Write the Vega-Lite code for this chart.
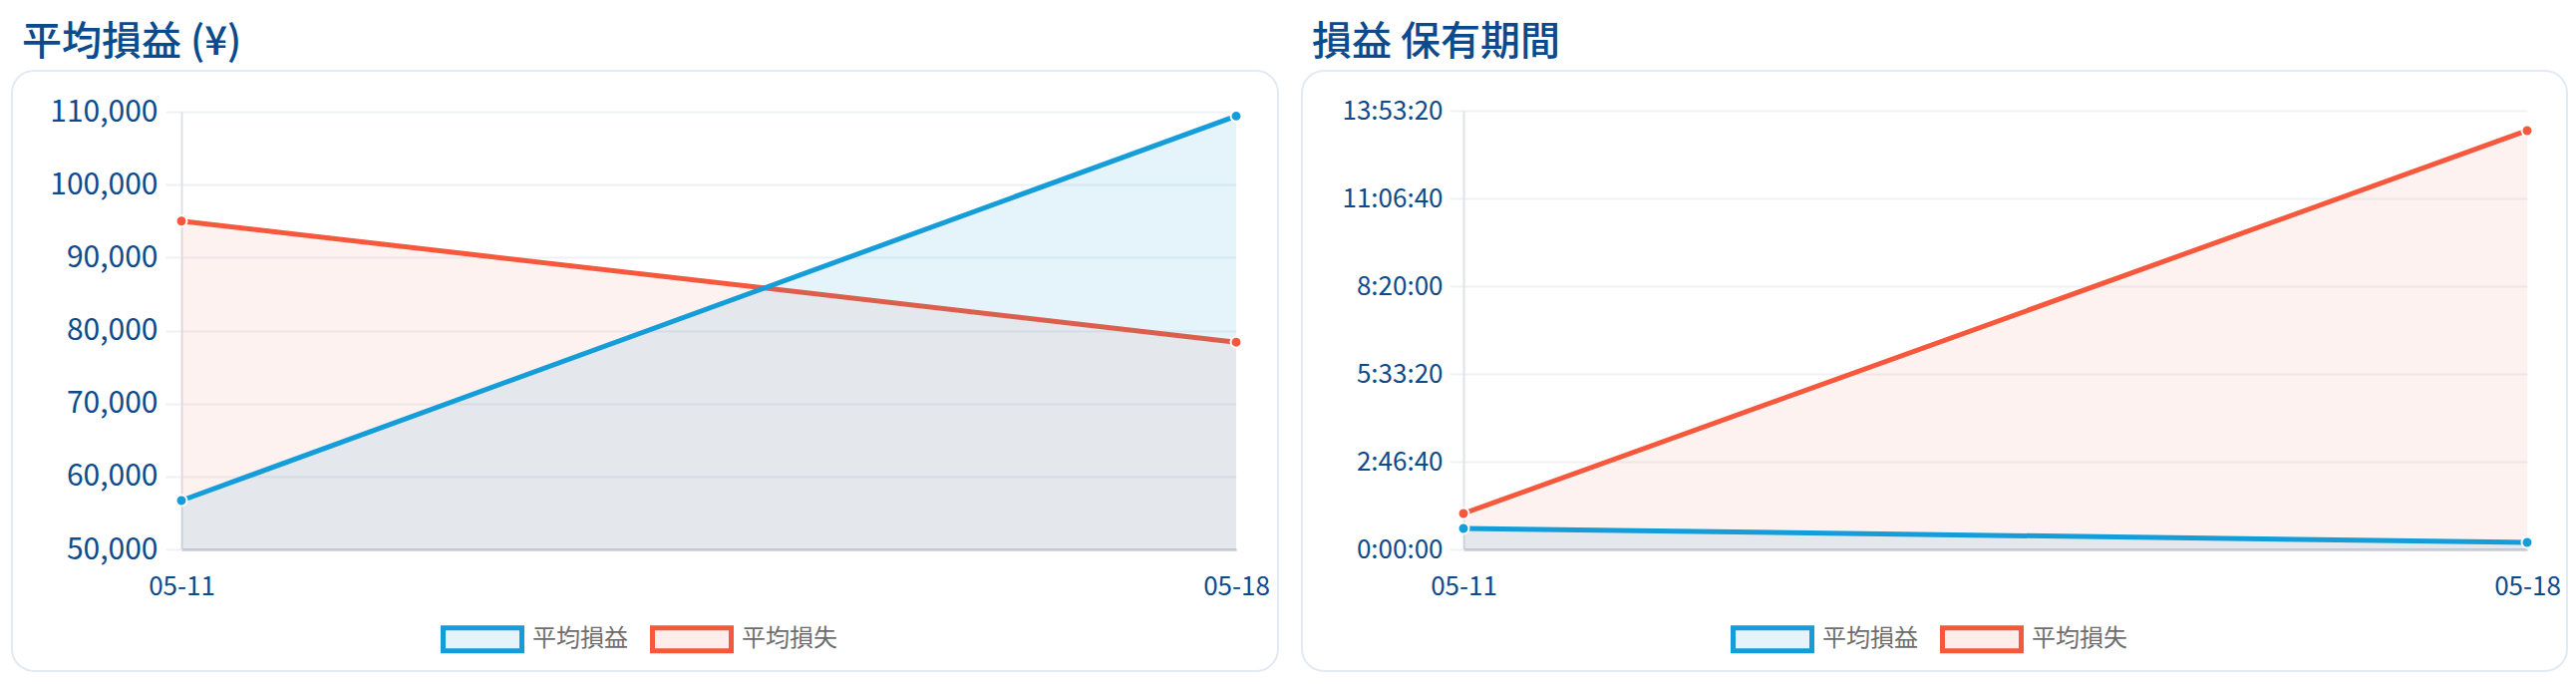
{
  "$schema": "https://vega.github.io/schema/vega-lite/v6.json",
  "background": "#ffffff",
  "padding": {"left": 11, "top": 22, "right": 0, "bottom": 0},
  "config": {
    "font": "Noto Sans CJK JP",
    "view": {"stroke": "#e3eaf3", "strokeWidth": 2, "cornerRadius": 22, "fill": "#ffffff"},
    "title": {"fontSize": 40, "fontWeight": 500, "color": "#0b4a8c", "anchor": "start", "frame": "group", "offset": 8, "dx": 10},
    "axis": {"labelFont": "Noto Sans CJK JP", "labelColor": "#0d4a8c", "title": null},
    "axisY": {
      "labelFontSize": 30, "labelPadding": 8,
      "gridColor": "#edf1f6", "gridWidth": 2,
      "tickColor": "#edf1f6", "tickWidth": 2, "tickSize": 16,
      "domainColor": "#e0e2e8", "domainWidth": 2
    },
    "axisX": {
      "labelFontSize": 26, "labelAngle": 0, "labelPadding": 24,
      "grid": false, "ticks": false,
      "domainColor": "#c9cdd6", "domainWidth": 2.5
    },
    "legend": {
      "title": null, "orient": "none", "direction": "horizontal",
      "labelFontSize": 24, "labelColor": "#6e6e6e", "labelFont": "Noto Sans CJK JP",
      "labelOffset": 8, "columnPadding": 14,
      "symbolType": "M-1,-0.29H1V0.29H-1Z", "symbolSize": 6241, "symbolStrokeWidth": 5
    }
  },
  "datasets": {
    "pnl": [
      {"date": "05-11", "series": "平均損益", "value": 56700},
      {"date": "05-18", "series": "平均損益", "value": 109400},
      {"date": "05-11", "series": "平均損失", "value": 95000},
      {"date": "05-18", "series": "平均損失", "value": 78400}
    ],
    "hold": [
      {"date": "05-11", "series": "平均損益", "value": 2390},
      {"date": "05-18", "series": "平均損益", "value": 800},
      {"date": "05-11", "series": "平均損失", "value": 4090},
      {"date": "05-18", "series": "平均損失", "value": 47730}
    ]
  },
  "spacing": 22,
  "resolve": {"scale": {"color": "independent"}, "legend": {"color": "independent"}},
  "hconcat": [
    {
      "data": {"name": "pnl"},
      "title": {"text": "平均損益 (¥)"},
      "width": 1270,
      "height": 602,
      "encoding": {
        "x": {
          "field": "date", "type": "ordinal",
          "scale": {"type": "point", "padding": 0, "range": [170, 1228]},
          "axis": {"offset": -122}
        },
        "y": {
          "field": "value", "type": "quantitative", "stack": null,
          "scale": {"domain": [50000, 110000], "range": [480, 41], "nice": false, "zero": false},
          "axis": {"offset": -170, "format": ",.0f", "values": [50000, 60000, 70000, 80000, 90000, 100000, 110000]}
        },
        "color": {
          "field": "series", "type": "nominal",
          "scale": {"domain": ["平均損益", "平均損失"], "range": ["#149dd8", "#f5583c"]},
          "legend": {
            "legendX": 430, "legendY": 528,
            "encode": {"symbols": {"update": {
              "fill": {"signal": "datum.value === '平均損益' ? '#149dd8' : '#f5583c'"},
              "stroke": {"signal": "datum.value === '平均損益' ? '#149dd8' : '#f5583c'"},
              "fillOpacity": {"value": 0.11}, "opacity": {"value": 1}, "strokeWidth": {"value": 5}
            }}}
          }
        }
      },
      "layer": [
        {"transform": [{"filter": "datum.series === '平均損失'"}], "mark": {"type": "area", "fillOpacity": 0.08}, "encoding": {"y2": {"datum": 50000}}},
        {"transform": [{"filter": "datum.series === '平均損失'"}], "mark": {"type": "line", "strokeWidth": 5}},
        {"transform": [{"filter": "datum.series === '平均損益'"}], "mark": {"type": "area", "fillOpacity": 0.11}, "encoding": {"y2": {"datum": 50000}}},
        {"transform": [{"filter": "datum.series === '平均損益'"}], "mark": {"type": "line", "strokeWidth": 5}},
        {"mark": {"type": "point", "filled": true, "size": 120, "opacity": 1, "stroke": "#ffffff", "strokeWidth": 2}}
      ]
    },
    {
      "data": {"name": "hold"},
      "title": {"text": "損益 保有期間"},
      "width": 1269,
      "height": 602,
      "encoding": {
        "x": {
          "field": "date", "type": "ordinal",
          "scale": {"type": "point", "padding": 0, "range": [162, 1229]},
          "axis": {"offset": -122}
        },
        "y": {
          "field": "value", "type": "quantitative", "stack": null,
          "scale": {"domain": [0, 50000], "range": [480, 40], "nice": false},
          "axis": {
            "offset": -162,
            "labelFontSize": 26, "labelPadding": 7, "tickSize": 14,
            "values": [0, 10000, 20000, 30000, 40000, 50000],
            "labelExpr": "floor(datum.value / 3600) + ':' + slice('0' + floor((datum.value % 3600) / 60), -2) + ':' + slice('0' + (datum.value % 60), -2)"
          }
        },
        "color": {
          "field": "series", "type": "nominal",
          "scale": {"domain": ["平均損益", "平均損失"], "range": ["#149dd8", "#f5583c"]},
          "legend": {
            "legendX": 430, "legendY": 528,
            "encode": {"symbols": {"update": {
              "fill": {"signal": "datum.value === '平均損益' ? '#149dd8' : '#f5583c'"},
              "stroke": {"signal": "datum.value === '平均損益' ? '#149dd8' : '#f5583c'"},
              "fillOpacity": {"value": 0.11}, "opacity": {"value": 1}, "strokeWidth": {"value": 5}
            }}}
          }
        }
      },
      "layer": [
        {"transform": [{"filter": "datum.series === '平均損失'"}], "mark": {"type": "area", "fillOpacity": 0.08}, "encoding": {"y2": {"datum": 0}}},
        {"transform": [{"filter": "datum.series === '平均損失'"}], "mark": {"type": "line", "strokeWidth": 5}},
        {"transform": [{"filter": "datum.series === '平均損益'"}], "mark": {"type": "area", "fillOpacity": 0.11}, "encoding": {"y2": {"datum": 0}}},
        {"transform": [{"filter": "datum.series === '平均損益'"}], "mark": {"type": "line", "strokeWidth": 5}},
        {"mark": {"type": "point", "filled": true, "size": 120, "opacity": 1, "stroke": "#ffffff", "strokeWidth": 2}}
      ]
    }
  ]
}
